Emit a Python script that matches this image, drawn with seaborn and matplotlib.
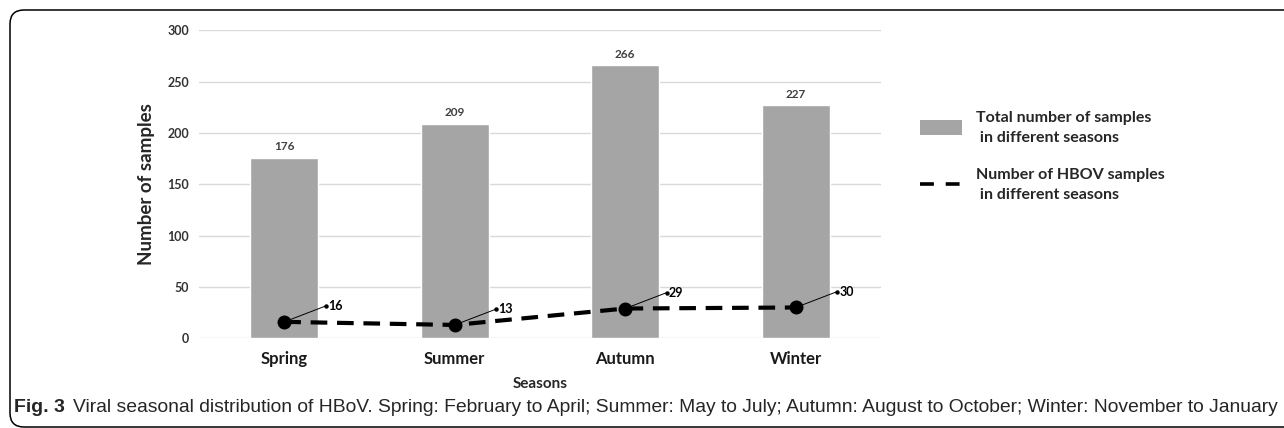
import matplotlib
matplotlib.use('Agg')
import matplotlib.pyplot as plt
import matplotlib.transforms as mtransforms
from matplotlib import font_manager
from matplotlib.patches import Patch, FancyBboxPatch
from matplotlib.lines import Line2D
import seaborn as sns

# data
seasons = ['Spring', 'Summer', 'Autumn', 'Winter']
total_samples = [176, 209, 266, 227]
hbov_samples = [16, 13, 29, 30]
y_ticks = [0, 50, 100, 150, 200, 250, 300]

legend_labels = ['Total number of samples\n in different seasons',
                 'Number of HBOV samples\n in different seasons']
caption_bold = 'Fig. 3'
caption_text = ('Viral seasonal distribution of HBoV. Spring: February to April; '
                'Summer: May to July; Autumn: August to October; Winter: November to January')

sns.set_style('white')
plt.rcParams['font.family'] = ['Lato', 'DejaVu Sans']
plt.rcParams['lines.scale_dashes'] = False

bar_color = '#A5A5A5'
grid_color = '#D9D9D9'

fig = plt.figure(figsize=(12.84, 4.28), dpi=100)
ax = fig.add_axes([0.155, 0.2096, 0.5311, 0.7196])

# bars
sns.barplot(x=seasons, y=total_samples, color=bar_color, saturation=1,
            width=0.4, ax=ax, zorder=2)
ax.bar_label(ax.containers[0], fmt='%d', padding=4, fontsize=8.5,
             fontweight='bold', color='#404040')

# dashed line with points
sns.pointplot(x=seasons, y=hbov_samples, color='black', linestyles='--',
              markers='o', errorbar=None, ax=ax)
line = ax.lines[-1]
line.set_linewidth(3)
line.set_dashes([12, 7])
line.set_markersize(8)
line.set_zorder(4)

# leader lines + labels for the HBoV values
dx, dy = 30, 11.5
for i, v in enumerate(hbov_samples):
    ax.annotate('', xy=(i, v), xytext=(dx, dy), textcoords='offset points',
                arrowprops=dict(arrowstyle='-', color='black', lw=0.7,
                                shrinkA=0, shrinkB=0), zorder=5)
    tr = mtransforms.offset_copy(ax.transData, fig=fig, x=dx, y=dy, units='points')
    ax.plot(i, v, 'o', ms=2.2, color='black', transform=tr, zorder=5)
    tr2 = mtransforms.offset_copy(ax.transData, fig=fig, x=dx + 1.5, y=dy, units='points')
    ax.text(i, v, str(v), transform=tr2, fontsize=9, fontweight='bold',
            ha='left', va='center', color='black')

# axes styling
ax.set_ylim(0, 300)
ax.set_xlim(-0.5, 3.5)
ax.set_yticks(y_ticks)
ax.yaxis.grid(True, color=grid_color, lw=1)
ax.xaxis.grid(False)
ax.set_axisbelow(True)
sns.despine(ax=ax, left=True, bottom=True)
ax.tick_params(axis='y', length=0, pad=7, labelsize=9, labelcolor='#333333')
ax.tick_params(axis='x', length=0, pad=9, labelsize=12, labelcolor='#1a1a1a')
for lbl in ax.get_xticklabels() + ax.get_yticklabels():
    lbl.set_fontweight('bold')
ax.set_ylabel('Number of samples', fontsize=13.5, fontweight='bold', labelpad=9)
ax.set_xlabel('Seasons', fontsize=11, fontweight='bold', labelpad=7)

# legend
handles = [Patch(facecolor=bar_color, edgecolor='none'),
           Line2D([0], [0], color='black', lw=2.6, dashes=[10, 8.5])]
fig.legend(handles, legend_labels, loc='upper left',
           bbox_to_anchor=(920 / 1284, 1 - 111 / 428), frameon=False,
           prop={'weight': 'bold', 'size': 11.5}, handlelength=2.6,
           handleheight=1.1, handletextpad=0.9, labelspacing=1.5,
           borderpad=0, borderaxespad=0)
for txt in fig.legends[0].get_texts():
    txt.set_linespacing(1.5)

# rounded frame
frame = FancyBboxPatch((10, 1), 1320, 417,
                       boxstyle='round,pad=0,rounding_size=14',
                       transform=mtransforms.IdentityTransform(),
                       facecolor='none', edgecolor='black', lw=1.1)
fig.patches.append(frame)

# caption, fitted to the available width
cap_font = 'Liberation Sans'
for name in ['Liberation Sans Narrow', 'Liberation Sans']:
    try:
        font_manager.findfont(font_manager.FontProperties(family=name),
                              fallback_to_default=False)
        cap_font = name
        break
    except Exception:
        pass

t1 = fig.text(14 / 1284, 1 - 407 / 428, caption_bold, fontsize=12,
              fontweight='bold', family=cap_font, va='center', ha='left')
t2 = fig.text(73 / 1284, 1 - 407 / 428, caption_text, fontsize=12,
              family=cap_font, va='center', ha='left')
fig.canvas.draw()
r = fig.canvas.get_renderer()
w2 = t2.get_window_extent(r).width
size = min(14, 12 * (1280 - 73) / w2)
t2.set_fontsize(size)
w1 = t1.get_window_extent(r).width
t1.set_fontsize(min(14, 12 * 51 / w1))

fig.savefig('out.png', dpi=100)
